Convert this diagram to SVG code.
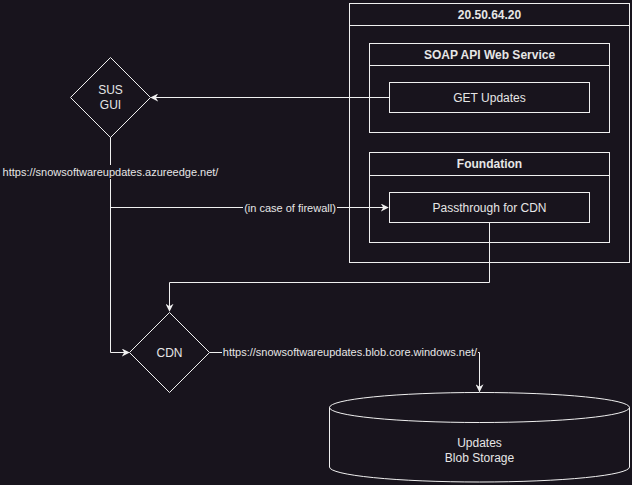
<svg xmlns="http://www.w3.org/2000/svg" width="632" height="485" viewBox="0 0 632 485">
<style>
.bg{fill:#18141d}
.box{fill:none;stroke:#f0f0f0;stroke-width:1}
.sh{fill:#18141d;stroke:#f0f0f0;stroke-width:1}
.t{font-family:"Liberation Sans",Arial,sans-serif;font-size:12px;fill:#e6e6e6;text-anchor:middle}
.b{font-weight:bold}
.lbl{font-family:"Liberation Sans",Arial,sans-serif;font-size:11px;fill:#e6e6e6}
.e{fill:none;stroke:#f0f0f0;stroke-width:1}
</style>
<defs>
<marker id="ah" viewBox="0 0 10 10" refX="9" refY="5" markerWidth="8" markerHeight="8" markerUnits="userSpaceOnUse" orient="auto">
<path d="M0,0 L10,5 L0,10 L3,5 Z" fill="#f0f0f0"/>
</marker>
</defs>
<rect class="bg" x="0" y="0" width="632" height="485"/>
<g id="connectors">
<path class="e" d="M389.5,97.5 H151" marker-end="url(#ah)"/>
<path class="e" d="M110.5,137 V352.5 H129" marker-end="url(#ah)"/>
<path class="e" d="M110.5,207.5 H388" marker-end="url(#ah)"/>
<path class="e" d="M489.5,222 V282.5 H169.5 V311" marker-end="url(#ah)"/>
<path class="e" d="M209.5,352.5 H479.5 V391.5" marker-end="url(#ah)"/>
<rect class="bg" x="2" y="165" width="218" height="14"/>
<text class="lbl" x="110.5" y="176" text-anchor="middle">https://snowsoftwareupdates.azureedge.net/</text>
<rect class="bg" x="243" y="201" width="94" height="14"/>
<text class="lbl" x="290" y="212" text-anchor="middle">(in case of firewall)</text>
<rect class="bg" x="222" y="345" width="256" height="14"/>
<text class="lbl" x="350" y="356" text-anchor="middle">https://snowsoftwareupdates.blob.core.windows.net/</text>
</g>
<g id="server">
<rect class="box" x="349.5" y="3.5" width="280" height="259"/>
<line class="box" x1="349.5" y1="25.5" x2="629.5" y2="25.5"/>
<text class="t b" x="489.5" y="19">20.50.64.20</text>
</g>
<g id="soap">
<rect class="box" x="369.5" y="43.5" width="240" height="89"/>
<line class="box" x1="369.5" y1="65.5" x2="609.5" y2="65.5"/>
<text class="t b" x="489.5" y="59">SOAP API Web Service</text>
</g>
<g id="get-updates">
<rect class="sh" x="389.5" y="82.5" width="200" height="30"/>
<text class="t" x="489.5" y="101.5">GET Updates</text>
</g>
<g id="foundation">
<rect class="box" x="369.5" y="152.5" width="240" height="90"/>
<line class="box" x1="369.5" y1="175.5" x2="609.5" y2="175.5"/>
<text class="t b" x="489.5" y="168">Foundation</text>
</g>
<g id="passthrough">
<rect class="sh" x="389.5" y="192.5" width="200" height="30"/>
<text class="t" x="489.5" y="211.5">Passthrough for CDN</text>
</g>
<g id="sus-gui">
<path class="sh" d="M110.5,57.5 L150.5,97.5 L110.5,137.5 L70.5,97.5 Z"/>
<text class="t" x="110.5" y="94">SUS</text>
<text class="t" x="110.5" y="109">GUI</text>
</g>
<g id="cdn">
<path class="sh" d="M169.5,312.5 L209.5,352.5 L169.5,392.5 L129.5,352.5 Z"/>
<text class="t" x="169.5" y="357">CDN</text>
</g>
<g id="blob">
<path class="sh" d="M329.5,407.5 A150,15 0 0 1 629.5,407.5 V467 A150,15 0 0 1 329.5,467 Z"/>
<path class="e" d="M329.5,407.5 A150,15 0 0 0 629.5,407.5"/>
<text class="t" x="479.5" y="447">Updates</text>
<text class="t" x="479.5" y="462">Blob Storage</text>
</g>
</svg>
